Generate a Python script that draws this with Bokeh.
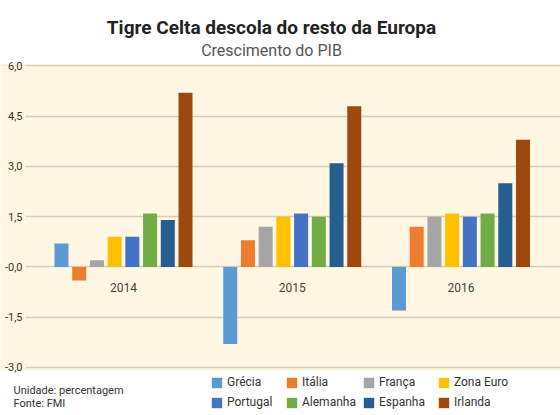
from bokeh.plotting import figure
from bokeh.models import (ColumnDataSource, Range1d, FixedTicker, Legend, LegendItem,
                          Label, BoxAnnotation)
from bokeh.transform import dodge
from bokeh.core.properties import value
from bokeh.embed import file_html
from bokeh.resources import INLINE

# ---- data ----
years = ["2014", "2015", "2016"]
countries = ["Grécia", "Itália", "França", "Zona Euro", "Portugal", "Alemanha", "Espanha", "Irlanda"]
grecia = [0.7, -2.3, -1.3]
italia = [-0.4, 0.8, 1.2]
franca = [0.2, 1.2, 1.5]
zona_euro = [0.9, 1.5, 1.6]
portugal = [0.9, 1.6, 1.5]
alemanha = [1.6, 1.5, 1.6]
espanha = [1.4, 3.1, 2.5]
irlanda = [5.2, 4.8, 3.8]
y_ticks = [-3.0, -1.5, 0.0, 1.5, 3.0, 4.5, 6.0]
y_tick_labels = ["-3,0", "-1,5", "-0,0", "1,5", "3,0", "4,5", "6,0"]
title_text = "Tigre Celta descola do resto da Europa"
subtitle_text = "Crescimento do PIB"
notes = ["Unidade: percentagem", "Fonte: FMI"]

series = [grecia, italia, franca, zona_euro, portugal, alemanha, espanha, irlanda]
colors = ["#5B9BD5", "#ED7D31", "#A5A5A5", "#FFC000", "#4472C4", "#70AD47", "#255E91", "#9E480E"]

FONT = "Roboto"
CREAM = "#FFF7E1"
GRID = "#D6CCB9"
W, H = 560, 415

data = {"x": list(range(len(years))), "year": years, "zero": [0] * len(years)}
for i, s in enumerate(series):
    data["s%d" % i] = s
source = ColumnDataSource(data)

x_range = Range1d(-0.7289, 2.5896)
y_range = Range1d(-4.433, 7.955)
p = figure(frame_width=W, frame_height=H, output_backend="svg", toolbar_location=None,
           x_range=x_range, y_range=y_range,
           x_axis_location=None, y_axis_location=None,
           min_border_left=0, min_border_right=0, min_border_top=0, min_border_bottom=0)

p.background_fill_color = "white"
p.border_fill_color = "white"
p.outline_line_color = None

# cream chart area (behind grid)
p.add_layout(BoxAnnotation(bottom=-3.1, top=6.02, fill_color=CREAM, fill_alpha=1,
                           line_color=None, level="image"))

p.xgrid.visible = False
p.ygrid.ticker = FixedTicker(ticks=y_ticks)
p.ygrid.grid_line_color = GRID
p.ygrid.grid_line_width = 1.5

# strip left of the grid lines, where the tick labels sit
p.add_layout(BoxAnnotation(left=0, right=25, left_units="screen", right_units="screen",
                           bottom=-3.1, top=6.02, fill_color=CREAM, fill_alpha=1,
                           line_color=None, level="underlay"))

# y tick labels
tick_src = ColumnDataSource({"y": y_ticks, "label": y_tick_labels,
                             "x": [x_range.start] * len(y_ticks)})
p.text(x="x", y="y", text="label", source=tick_src, x_offset=22, text_align="right",
       text_baseline="middle", text_font=value(FONT), text_font_size="11px",
       text_color="#333333")

pitch = 0.105
width = 0.083
rend = {}
for i, (name, col) in enumerate(zip(countries, colors)):
    rend[name] = p.vbar(x=dodge("x", (i - 3.5) * pitch, range=p.x_range), top="s%d" % i, bottom=0,
                        width=width, source=source, fill_color=col, line_color=None)

# category labels under the zero line
p.text(x="x", y="zero", text="year", source=source, text_align="center",
       text_baseline="top", y_offset=16, text_font=value(FONT), text_font_size="12px",
       text_color="#444444")

# legend: column-major fill -> order so rows read as in the reference
order = [0, 4, 1, 5, 2, 6, 3, 7]
items = [LegendItem(label=countries[k], renderers=[rend[countries[k]]]) for k in order]
legend = Legend(items=items, ncols=4, location=(210, 6),
                label_text_font=FONT, label_text_font_size="12px", label_text_color="#333333",
                glyph_width=13, glyph_height=13, label_height=14, label_standoff=4,
                label_width=52, spacing=6, padding=6, margin=0, border_line_color=None,
                background_fill_alpha=0)
p.add_layout(legend, "center")

# titles and notes
p.add_layout(Label(x=271, y=H - 27, x_units="screen", y_units="screen", text=title_text,
                   text_align="center", text_baseline="alphabetic", text_font=FONT,
                   text_font_size="19px", text_font_style="bold", text_color="#222222"))
p.add_layout(Label(x=271, y=H - 50, x_units="screen", y_units="screen", text=subtitle_text,
                   text_align="center", text_baseline="alphabetic", text_font=FONT,
                   text_font_size="16px", text_color="#555555"))
for txt, yy in zip(notes, [H - 390, H - 403]):
    p.add_layout(Label(x=13, y=yy, x_units="screen", y_units="screen", text=txt,
                       text_baseline="alphabetic", text_font=FONT, text_font_size="11px",
                       text_color="#333333"))

open("out.html", "w").write(file_html(p, INLINE))
